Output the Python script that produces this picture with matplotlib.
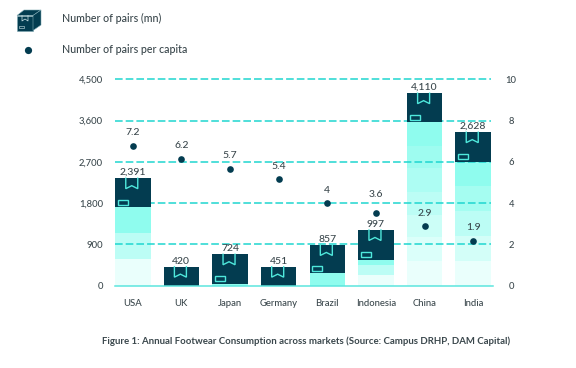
import matplotlib
matplotlib.use("Agg")
import matplotlib.pyplot as plt
from matplotlib.colors import LinearSegmentedColormap
from matplotlib.patches import Polygon
from matplotlib.lines import Line2D
from matplotlib.transforms import Affine2D

markets = ["USA", "UK", "Japan", "Germany", "Brazil", "Indonesia", "China", "India"]
pairs_labels = ["2,391", "420", "724", "451", "857", "997", "4,110", "2,628"]
# bar tops as drawn in the picture (they do not follow the printed labels exactly)
bar_tops = [2342, 411, 682, 411, 885, 1212, 4198, 3347]
box_bottoms = [1708, 0, 33, 0, 266, 564, 3565, 2704]
# upper edge of each pale band, bottom to top
band_edges = [
    [579, 1140, 1708],
    [],
    [33],
    [],
    [266],
    [229, 449, 564],
    [535, 1059, 1540, 2042, 2566, 3047, 3565],
    [535, 1081, 1627, 2173, 2704],
]
per_capita = [6.76, 6.15, 5.65, 5.17, 4.0, 3.52, 2.87, 2.16]
per_capita_labels = ["7.2", "6.2", "5.7", "5.4", "4", "3.6", "2.9", "1.9"]
left_ticks = [0, 900, 1800, 2700, 3600, 4500]
right_ticks = [0, 2, 4, 6, 8, 10]

DARK = "#033c50"
TEAL = "#4fe8dc"
GRID = "#1fd6d0"
TEXT = "#3a474c"
W, H = 576, 368
plt.rcParams["font.family"] = ["Lato", "DejaVu Sans"]
plt.rcParams["font.weight"] = "medium"

band_cmap = LinearSegmentedColormap.from_list("bands", ["#eafffc", "#8ffcee"])

fig = plt.figure(figsize=(W / 100, H / 100), dpi=100)
ax = fig.add_axes([115 / W, 1 - 285.5 / H, 376 / W, 206.2 / H])
ax.set_xlim(-0.365, 7.365)
ax.set_ylim(0, 4500)
ax.set_yticks(left_ticks, [f"{v:,}" for v in left_ticks])
ax.set_xticks(range(len(markets)), markets)
ax.tick_params(axis="both", length=0, labelsize=6.8, labelcolor=TEXT)
ax.tick_params(axis="y", pad=8.5)
ax.tick_params(axis="x", pad=9.5)
for s in ax.spines.values():
    s.set_visible(False)
ax.set_axisbelow(False)

ax2 = ax.twinx()
ax2.set_ylim(0, 10)
ax2.set_yticks(right_ticks, [str(v) for v in right_ticks])
ax2.tick_params(axis="y", length=0, labelsize=6.8, labelcolor=TEXT, pad=14.5)
for lab in ax2.get_yticklabels():
    lab.set_ha("center")
for s in ax2.spines.values():
    s.set_visible(False)

# size of one pixel in data units, for the box decorations
px_x = 7.73 / 376
px_y = 4500 / 206.2

for i, market in enumerate(markets):
    edges = band_edges[i]
    lower = 0
    for j, edge in enumerate(edges):
        shade = 1.0 if len(edges) == 1 else j / (len(edges) - 1)
        ax.bar(i, edge - lower, bottom=lower, width=0.73, color=band_cmap(shade), zorder=1)
        lower = edge
    ax.bar(i, bar_tops[i] - box_bottoms[i], bottom=box_bottoms[i], width=0.73,
           color=DARK, zorder=3)
    # bookmark tape
    top = bar_tops[i]
    ax.plot([i + dx * px_x for dx in (-7, -7, -1, 5, 5)],
            [top - dy * px_y for dy in (0, 10.5, 7.5, 10.5, 0)],
            color=TEAL, lw=1, zorder=4, solid_joinstyle="miter")
    # small label on the box, the plain ones have none
    if market not in ("UK", "Germany"):
        low = box_bottoms[i]
        ax.add_patch(plt.Rectangle((i - 15 * px_x, low + 2.6 * px_y), 10 * px_x, 5 * px_y,
                                   fc="none", ec=TEAL, lw=1, zorder=4))
    ax.annotate(pairs_labels[i], (i, top), xytext=(0, 0.8), textcoords="offset points",
                ha="center", va="bottom", fontsize=7.5, color=TEXT, zorder=6)

for v in left_ticks[1:]:
    ax.axhline(v, color=GRID, lw=1.1, dashes=(5, 2), zorder=2, clip_on=False)
ax.plot([-0.365, 7.41], [0, 0], color="#5de6de", lw=1.1, zorder=5, clip_on=False)

ax2.plot(range(len(markets)), per_capita, "o", color=DARK, ms=4.8, mew=0, zorder=5)
label_gaps = [9.5, 9.5, 10, 9, 9, 13, 9, 10]
for i, lab in enumerate(per_capita_labels):
    ax2.annotate(lab, (i, per_capita[i]), xytext=(0, label_gaps[i]), textcoords="offset points",
                 ha="center", va="center", fontsize=7.5, color=TEXT, zorder=6)

# legend, laid out in picture pixels
to_px = Affine2D().scale(1, -1).translate(0, H)
front = [(17, 15.5), (33, 15.5), (33, 30.5), (17, 30.5)]
lid = [(17, 15.5), (24, 10), (41, 10), (33, 15.5)]
side = [(33, 15.5), (41, 10), (41, 25), (33, 30.5)]
for pts in (front, lid, side):
    fig.add_artist(Polygon(pts, closed=True, fc=DARK, ec="#7fa9b3", lw=0.4, transform=to_px))
fig.add_artist(Line2D([22, 22, 25, 28, 28], [15.5, 21, 19, 21, 15.5], color="#cfe6ea", lw=0.5,
                      transform=to_px))
fig.add_artist(Polygon([(19, 25.5), (24, 25.5), (24, 28), (19, 28)], closed=True, fc="none",
                       ec="#cfe6ea", lw=0.4, transform=to_px))
fig.add_artist(Line2D([28], [50], marker="o", ms=5.2, mew=0, color=DARK, ls="", transform=to_px))

fig.text(62 / W, 1 - 18.5 / H, "Number of pairs (mn)", fontsize=7.7, color=TEXT, va="center")
fig.text(62 / W, 1 - 49.5 / H, "Number of pairs per capita", fontsize=7.7, color=TEXT, va="center")
fig.text(101.7 / W, 1 - 341.7 / H,
         "Figure 1: Annual Footwear Consumption across markets (Source: Campus DRHP, DAM Capital)",
         fontsize=6.9, color=TEXT, va="center", weight="bold")

fig.savefig("out.png", dpi=100)
